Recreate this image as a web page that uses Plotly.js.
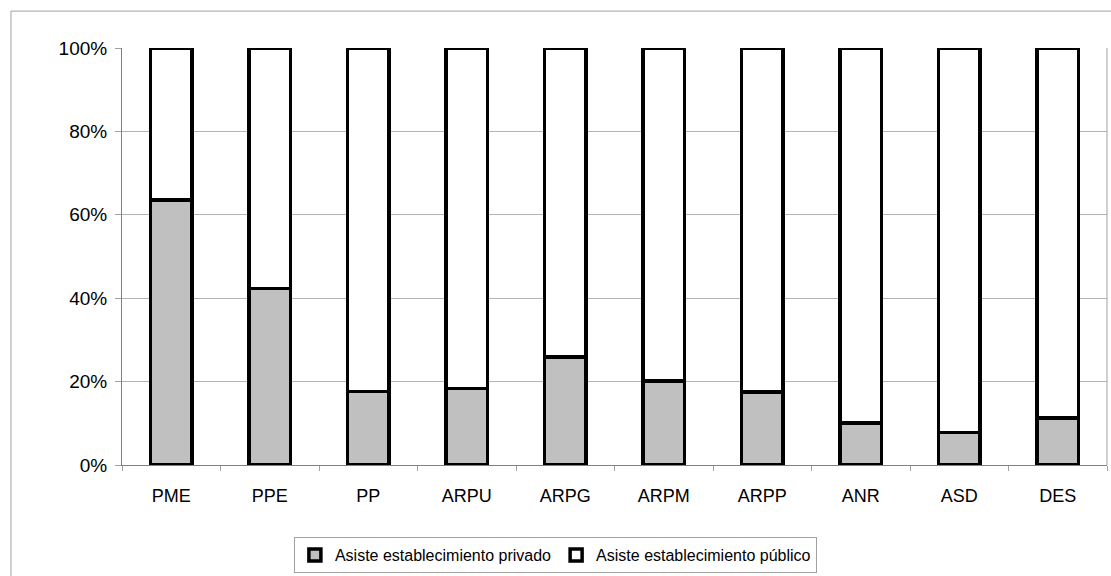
<!DOCTYPE html>
<html>
<head>
<meta charset="utf-8">
<script src="https://cdn.plot.ly/plotly-3.0.1.min.js"></script>
<style>html,body{margin:0;padding:0;background:#fff;}#chart{width:1111px;height:576px;}</style>
</head>
<body>
<div id="chart"></div>
<script>
const categories = ["PME", "PPE", "PP", "ARPU", "ARPG", "ARPM", "ARPP", "ANR", "ASD", "DES"];
const privado = [63.6, 42.3, 17.6, 18.4, 25.9, 20.2, 17.5, 10.1, 7.8, 11.3];
const publico = [36.4, 57.7, 82.4, 81.6, 74.1, 79.8, 82.5, 89.9, 92.2, 88.7];
const seriesNames = ["Asiste establecimiento privado", "Asiste establecimiento público"];
const yTicks = [0, 20, 40, 60, 80, 100];
const yTickLabels = ["0%", "20%", "40%", "60%", "80%", "100%"];

const font = "Liberation Sans, Arial, sans-serif";
const traces = [
  {type: "bar", name: seriesNames[0], x: categories, y: privado,
   marker: {color: "#C0C0C0", line: {color: "#000000", width: 3.5}}},
  {type: "bar", name: seriesNames[1], x: categories, y: publico,
   marker: {color: "#FFFFFF", line: {color: "#000000", width: 3.5}}}
];
const layout = {
  width: 1111, height: 576,
  margin: {l: 122, r: 4, t: 48, b: 110},
  paper_bgcolor: "#fff", plot_bgcolor: "#fff",
  barmode: "stack", bargap: 0.58,
  showlegend: true,
  font: {family: font, size: 16, color: "#000"},
  xaxis: {
    type: "category", tickson: "boundaries", ticks: "outside", ticklen: 5,
    tickcolor: "#A0A0A0", showline: true, linecolor: "#808080", linewidth: 1,
    showgrid: false, tickfont: {family: font, size: 18, color: "#000"},
    ticklabelstandoff: 14, automargin: false, fixedrange: true
  },
  yaxis: {
    range: [0, 100], tickvals: yTicks, ticktext: yTickLabels,
    ticks: "outside", ticklen: 6, tickcolor: "#A0A0A0",
    showline: true, linecolor: "#808080", linewidth: 1,
    showgrid: true, gridcolor: "#B4B4B4", gridwidth: 1, zeroline: false,
    tickfont: {family: font, size: 19, color: "#000"}, ticklabelstandoff: 4,
    automargin: false, fixedrange: true
  },
  legend: {
    orientation: "h", x: 0.44, xanchor: "center", y: -0.17, yanchor: "top",
    bordercolor: "#A0A0A0", borderwidth: 1, bgcolor: "#fff",
    font: {family: font, size: 16, color: "#000"},
    itemwidth: 30, traceorder: "normal"
  },
  shapes: [
    {type: "rect", xref: "paper", yref: "paper", x0: -0.1127, x1: 1.2, y0: -0.5, y1: 1.0885,
     line: {color: "#A0A0A0", width: 1}, fillcolor: "rgba(0,0,0,0)", layer: "below"},
    {type: "line", xref: "paper", yref: "paper", x0: 1, x1: 1, y0: 0, y1: 1,
     line: {color: "#A0A0A0", width: 1}}
  ]
};
Plotly.newPlot("chart", traces, layout, {staticPlot: true, displayModeBar: false});
</script>
</body>
</html>
